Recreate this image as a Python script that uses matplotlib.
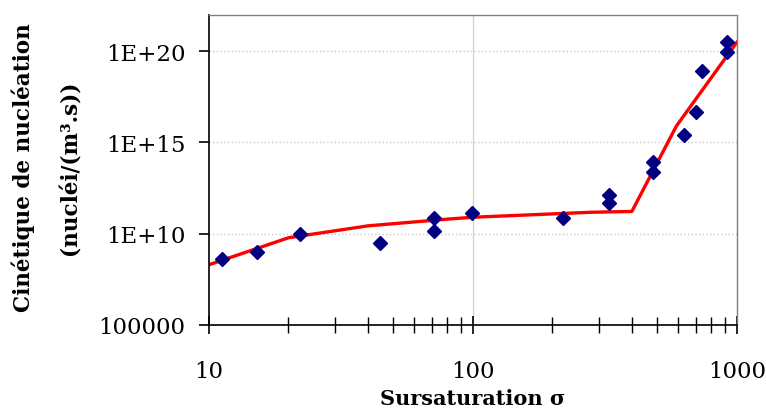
import numpy as np
import matplotlib
matplotlib.use('Agg')
import matplotlib.pyplot as plt
from matplotlib.ticker import FixedLocator, LogLocator, NullFormatter

# experimental points
sigma_pts = [11.2, 15.2, 22.1, 44.6, 71.3, 71.3, 98.9, 219, 327, 327, 482, 482, 630, 701, 735, 914, 914]
J_pts = [4.1e8, 1.0e9, 9.4e9, 3.0e9, 7.0e10, 1.5e10, 1.45e11, 7.0e10, 1.4e12, 5.1e11,
         8.9e13, 2.4e13, 2.7e15, 4.8e16, 8.7e18, 3.1e20, 9.1e19]

# model curve
sigma_fit = [10, 20, 40, 80, 100, 280, 400, 590, 1000]
J_fit = [2.0e8, 6.0e9, 2.7e10, 6.3e10, 8.0e10, 1.5e11, 1.66e11, 8.0e15, 3.1e20]

ytick_vals = [1e5, 1e10, 1e15, 1e20]
ytick_labels = ['100000', '1E+10', '1E+15', '1E+20']
xtick_vals = [10, 100, 1000]
xtick_labels = ['10', '100', '1000']

plt.rcParams['font.family'] = ['DejaVu Serif']

fig = plt.figure(figsize=(7.66, 4.10), dpi=100)
ax = fig.add_axes([0.2728, 0.2049, 0.6892, 0.7568])

ax.plot(sigma_fit, J_fit, color='#ff0000', linewidth=2.4, zorder=2)
ax.plot(sigma_pts, J_pts, linestyle='none', marker='D', markersize=7.5,
        color='#000080', zorder=3)

ax.set_xscale('log')
ax.set_yscale('log')
ax.set_xlim(10, 1000)
ax.set_ylim(1e5, 1e22)

ax.xaxis.set_major_locator(FixedLocator(xtick_vals))
ax.set_xticklabels(xtick_labels, fontsize=16.5)
ax.xaxis.set_minor_locator(LogLocator(base=10, subs=np.arange(2, 10)))
ax.xaxis.set_minor_formatter(NullFormatter())
ax.yaxis.set_major_locator(FixedLocator(ytick_vals))
ax.set_yticklabels(ytick_labels, fontsize=16.5)
ax.yaxis.set_minor_locator(FixedLocator([]))

ax.tick_params(axis='x', which='major', direction='inout', length=13, width=1.2, pad=19)
ax.tick_params(axis='x', which='minor', direction='inout', length=11, width=1.0)
ax.tick_params(axis='y', which='major', direction='out', length=7, width=1.2, pad=10)

ax.grid(True, axis='y', which='major', color='#c8c8c8', linestyle=':', linewidth=1.0)
ax.axvline(100, color='#d0d0d0', linewidth=0.9, zorder=0)

for side in ['left', 'bottom']:
    ax.spines[side].set_color('black')
    ax.spines[side].set_linewidth(1.2)
for side in ['top', 'right']:
    ax.spines[side].set_color('#808080')
    ax.spines[side].set_linewidth(1.0)

fig.text(473 / 766, 0.002, 'Sursaturation σ', fontsize=15, fontweight='bold',
         ha='center', va='bottom')
fig.text(0.030, 0.59, 'Cinétique de nucléation', rotation=90, fontsize=15.5,
         fontweight='bold', ha='center', va='center')
fig.text(0.092, 0.59, '(nucléi/(m³.s))', rotation=90, fontsize=15.5,
         fontweight='bold', ha='center', va='center')

plt.savefig('out.png', dpi=100)
